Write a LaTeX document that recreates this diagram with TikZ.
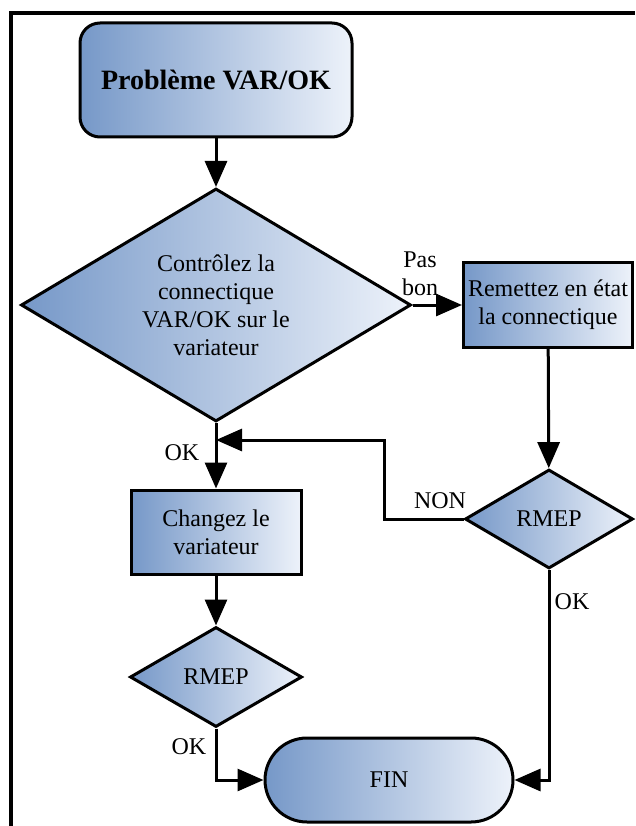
\documentclass[tikz,border=0pt]{standalone}
\usepackage{fontspec}
\setmainfont{Liberation Serif}
\usetikzlibrary{arrows.meta,shapes.geometric,shapes.misc}
\definecolor{fcdark}{RGB}{118,152,200}
\definecolor{fclight}{RGB}{237,242,250}

\begin{document}
\begin{tikzpicture}[x=1pt,y=-1pt,>={Triangle[length=26pt,width=22pt]},
    font=\fontsize{24}{28}\selectfont,every node/.style={align=center},
    flowbox/.style={draw,line width=3pt,left color=fcdark,right color=fclight,inner sep=0pt},
    decide/.style={flowbox,diamond,aspect=1.7},
    flow/.style={->,line width=3pt}]
    \useasboundingbox (0,0) rectangle (635,826);
    \draw[line width=4pt] (11,826) -- (11,13) -- (635,13);
    % boxes
    \node[flowbox,rounded corners=20pt,minimum width=272pt,minimum height=114pt,
      font=\fontsize{28}{32}\selectfont\bfseries] (start) at (216,80) {Problème VAR/OK};
    \node[decide,minimum width=390pt,minimum height=233pt] (ctrl) at (216,305)
      {Contrôlez la\\connectique\\VAR/OK sur le\\variateur};
    \node[flowbox,minimum width=169pt,minimum height=85pt] (fix) at (548,305)
      {Remettez en état\\la connectique};
    \node[decide,minimum width=168pt,minimum height=99pt] (rmepB) at (549,519) {RMEP};
    \node[flowbox,minimum width=170pt,minimum height=84pt] (swap) at (216,532)
      {Changez le\\variateur};
    \node[decide,minimum width=172pt,minimum height=100pt] (rmepA) at (216,677) {RMEP};
    \node[flowbox,rounded rectangle,minimum width=248pt,minimum height=84pt] (fin) at (389,780) {FIN};
    % labels
    \node (pasbon) at (420,274) {Pas\\bon};
    \node (okA) at (182,453) {OK};
    \node (non) at (440,501) {NON};
    \node (okB) at (572,602) {OK};
    \node (okC) at (189,747) {OK};
    % links
    \coordinate (join) at (216,440);
    \coordinate (back) at (384,440);
    \draw[flow] (start) -- (ctrl);
    \draw[flow] (ctrl.east) -- (fix.west);
    \draw[flow] (fix) -- (rmepB);
    \draw[flow] (ctrl.south) -- (swap.north);
    \draw[flow] (rmepB.west) -| (back) -- (join);
    \draw[flow] (swap) -- (rmepA);
    \draw[flow] (rmepA.south) |- (fin.west);
    \draw[flow] (rmepB.south) |- (fin.east);
\end{tikzpicture}
\end{document}
